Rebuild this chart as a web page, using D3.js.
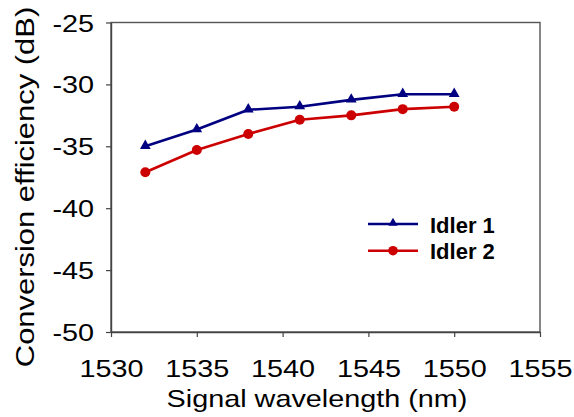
<!DOCTYPE html>
<html>
<head>
<meta charset="utf-8">
<script src="https://cdn.jsdelivr.net/npm/d3@7"></script>
<style>
  html, body { margin: 0; padding: 0; background: #fff; }
  svg { display: block; font-family: Arial, "Liberation Sans", sans-serif; }
</style>
</head>
<body>
<svg id="chart" width="574" height="417"></svg>
<script>
// ---- data ----
const wavelengths = [1532, 1535, 1538, 1541, 1544, 1547, 1550];
const idler1 = [-35.0, -33.65, -32.05, -31.8, -31.25, -30.8, -30.8];
const idler2 = [-37.1, -35.3, -34.0, -32.85, -32.5, -32.0, -31.8];
const xTicks = [1530, 1535, 1540, 1545, 1550, 1555];
const yTicks = [-50, -45, -40, -35, -30, -25];
const seriesNames = ["Idler 1", "Idler 2"];
const xTitle = "Signal wavelength (nm)";
const yTitle = "Conversion efficiency (dB)";

// ---- layout ----
const L = 111, R = 540, T = 22.5, B = 332;
const svg = d3.select("#chart");
const x = d3.scaleLinear().domain([1530, 1555]).range([L, R]);
const y = d3.scaleLinear().domain([-50, -25]).range([B, T]);
const axisColor = "#444";
const stretch = 1.2;
const tickFont = 24;

// frame
svg.append("rect").attr("x", L).attr("y", T).attr("width", R - L).attr("height", B - T)
  .attr("fill", "none").attr("stroke", "#555").attr("stroke-width", 1.4);

// y axis
const gy = svg.append("g").attr("transform", `translate(${L},0)`)
  .call(d3.axisLeft(y).tickValues(yTicks).tickSize(5).tickSizeOuter(0).tickFormat(d3.format("d")));
gy.select(".domain").attr("stroke", axisColor).attr("stroke-width", 1.4);
gy.selectAll(".tick line").attr("stroke", axisColor).attr("stroke-width", 1.2);
gy.selectAll(".tick text")
  .attr("x", null).attr("dy", null)
  .attr("transform", "translate(-17,8.5) scale(" + stretch + ",1)")
  .attr("text-anchor", "end")
  .attr("font-size", tickFont).attr("font-family", "Arial, 'Liberation Sans', sans-serif")
  .attr("fill", "#000")
  .text(d => d3.format("d")(d).replace("−", "-"));

// x axis
const gx = svg.append("g").attr("transform", `translate(0,${B})`)
  .call(d3.axisBottom(x).tickValues(xTicks).tickSize(5).tickSizeOuter(0).tickFormat(d3.format("d")));
gx.select(".domain").attr("stroke", axisColor).attr("stroke-width", 1.4);
gx.selectAll(".tick line").attr("stroke", axisColor).attr("stroke-width", 1.2);
gx.selectAll(".tick text")
  .attr("y", null).attr("dy", null)
  .attr("transform", "translate(0,45) scale(" + stretch + ",1)")
  .attr("text-anchor", "middle")
  .attr("font-size", tickFont).attr("font-family", "Arial, 'Liberation Sans', sans-serif")
  .attr("fill", "#000");

// axis titles
svg.append("text")
  .attr("transform", "translate(317,407) scale(1.2,1)")
  .attr("text-anchor", "middle").attr("font-size", 24).attr("fill", "#000")
  .text(xTitle);
svg.append("text")
  .attr("transform", "translate(34,187) rotate(-90) scale(1.19,1)")
  .attr("text-anchor", "middle").attr("font-size", 26).attr("fill", "#000")
  .text(yTitle);

// series
const series = [
  { name: seriesNames[0], values: idler1, color: "#000080", marker: "triangle" },
  { name: seriesNames[1], values: idler2, color: "#cc0000", marker: "circle" }
];
const line = d3.line().x(d => x(d[0])).y(d => y(d[1]));
const triSym = d3.symbol().type(d3.symbolTriangle).size(50);
const triSymLeg = d3.symbol().type(d3.symbolTriangle).size(36);

series.forEach(s => {
  const pts = wavelengths.map((w, i) => [w, s.values[i]]);
  svg.append("path").datum(pts).attr("d", line)
    .attr("fill", "none").attr("stroke", s.color).attr("stroke-width", 2.6)
    .attr("stroke-linejoin", "round");
  if (s.marker === "circle") {
    svg.selectAll(null).data(pts).enter().append("circle")
      .attr("cx", d => x(d[0])).attr("cy", d => y(d[1])).attr("r", 5)
      .attr("fill", s.color);
  } else {
    svg.selectAll(null).data(pts).enter().append("path")
      .attr("d", triSym)
      .attr("transform", d => `translate(${x(d[0])},${y(d[1]) - 0.5})`)
      .attr("fill", s.color);
  }
});

// legend
const legY = [224, 250.7];
series.forEach((s, i) => {
  const g = svg.append("g").attr("transform", `translate(0,${legY[i]})`);
  g.append("line").attr("x1", 368).attr("x2", 418).attr("y1", 0).attr("y2", 0)
    .attr("stroke", s.color).attr("stroke-width", 2.6);
  if (s.marker === "circle") {
    g.append("circle").attr("cx", 393).attr("cy", 0).attr("r", 4.8).attr("fill", s.color);
  } else {
    g.append("path").attr("d", triSymLeg).attr("transform", "translate(393,-1)").attr("fill", s.color);
  }
  g.append("text").attr("x", 430).attr("y", 8.5)
    .attr("font-size", 22).attr("font-weight", "bold").attr("fill", "#000")
    .text(s.name);
});
</script>
</body>
</html>
